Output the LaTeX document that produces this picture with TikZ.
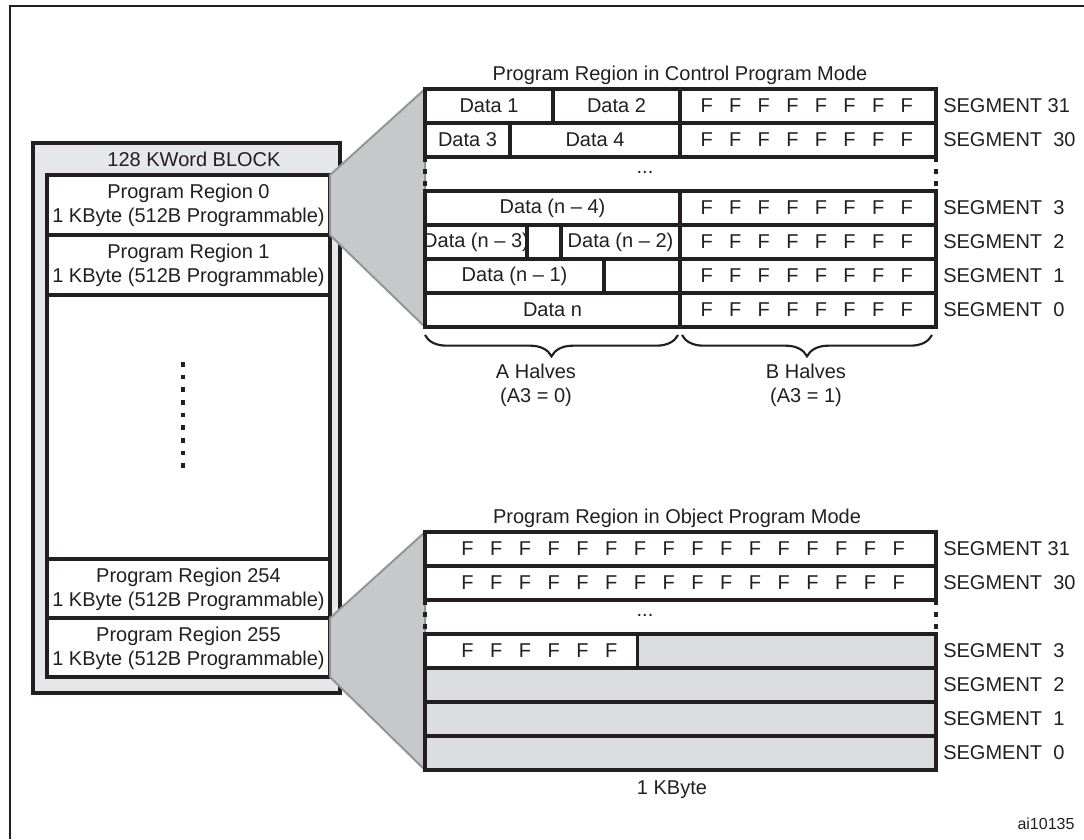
\documentclass[tikz,border=0pt]{standalone}
\usepackage{fontspec}
\setmainfont{Liberation Sans}
\usepackage{tikz}
\usetikzlibrary{decorations.pathreplacing}
\definecolor{ink}{HTML}{231F20}
\definecolor{blockfill}{HTML}{E6E7E8}
\definecolor{zoomfill}{HTML}{C7C8CA}
\definecolor{zoomline}{HTML}{939598}
\definecolor{unusedfill}{HTML}{DCDDDE}
\tikzset{
  lbl/.style={font=\fontsize{15}{18}\selectfont, text=ink, inner sep=0pt, align=center},
  seg/.style={lbl, anchor=west},
  cell/.style={draw=ink, line width=2.4pt, fill=white},
  greycell/.style={cell, fill=unusedfill},
  zoomwedge/.style={draw=zoomline, line width=1.5pt, fill=zoomfill, line join=round},
  gapedge/.style={draw=ink, line width=2.4pt, dash pattern=on 4pt off 5pt},
  halfbrace/.style={draw=ink, line width=1.6pt, decorate, decoration={brace, mirror, amplitude=16pt}},
}

\begin{document}
\begin{tikzpicture}[x=0.75pt, y=-0.75pt]
\useasboundingbox (0,0) rectangle (1084,839);
% Rahmen
\draw[ink, line width=1.5pt] (9.5,839) -- (9.5,6) -- (1084,6);

% 128 KWord Block
\draw[cell, fill=blockfill] (33,143) rectangle (340,693);
\node[lbl] (blk) at (194,159) {128 KWord BLOCK};
\draw[cell] (47,175) rectangle (330,235);
\node[lbl] (pr0) at (188.5,205) {Program Region 0\\1 KByte (512B Programmable)};
\draw[cell] (47,235) rectangle (330,295);
\node[lbl] (pr1) at (188.5,265) {Program Region 1\\1 KByte (512B Programmable)};
\draw[cell] (47,295) rectangle (330,559);
\draw[ink, line width=3pt, dash pattern=on 3.5pt off 6pt] (183,362) -- (183,474);
\draw[cell] (47,559) rectangle (330,618);
\node[lbl] (pr254) at (188.5,589) {Program Region 254\\1 KByte (512B Programmable)};
\draw[cell] (47,618) rectangle (330,677);
\node[lbl] (pr255) at (188.5,648) {Program Region 255\\1 KByte (512B Programmable)};

% Vergroesserung
\draw[zoomwedge] (330,175) -- (425,89) -- (425,327) -- (330,235) -- cycle;
\draw[zoomwedge] (330,618) -- (425,532) -- (425,770) -- (330,677) -- cycle;

% Control Program Mode
\node[lbl] (ctitle) at (680,75) {Program Region in Control Program Mode};
\draw[cell] (425,89) rectangle (553,123);
\node[lbl] (d1) at (489,106) {Data 1};
\draw[cell] (553,89) rectangle (680,123);
\node[lbl] (d2) at (616.5,106) {Data 2};
\draw[cell] (425,123) rectangle (510,157);
\node[lbl] (d3) at (467.5,140) {Data 3};
\draw[cell] (510,123) rectangle (680,157);
\node[lbl] (d4) at (595,140) {Data 4};
\draw[gapedge] (425,157) -- (425,191);
\draw[gapedge] (936,157) -- (936,191);
\node[lbl] (cdots) at (645,172) {...};
\draw[cell] (425,191) rectangle (680,225);
\node[lbl] (dn4) at (552.5,208) {Data (n -- 4)};
\draw[cell] (425,225) rectangle (527,259);
\node[lbl] (dn3) at (476,242) {Data (n -- 3)};
\draw[cell] (527,225) rectangle (561,259);
\draw[cell] (561,225) rectangle (680,259);
\node[lbl] (dn2) at (620.5,242) {Data (n -- 2)};
\draw[cell] (425,259) rectangle (604,293);
\node[lbl] (dn1) at (514.5,276) {Data (n -- 1)};
\draw[cell] (604,259) rectangle (680,293);
\draw[cell] (425,293) rectangle (680,327);
\node[lbl] (dn) at (552.5,310) {Data n};
% B-Haelften
\foreach \yt/\s in {89/31, 123/30, 191/3, 225/2, 259/1, 293/0}{
  \draw[cell] (680,\yt) rectangle (936,\yt+34);
  \foreach \k in {0,...,7}
    \node[lbl] (cf\s-\k) at (706.7+28.57*\k,\yt+17) {F};
}
\node[seg] (cs31) at (943,106) {SEGMENT 31};
\foreach \yt/\s in {123/30, 191/3, 225/2, 259/1, 293/0}
  \node[seg] (cs\s) at (943,\yt+17) {SEGMENT\ \ \s};

\draw[halfbrace] (425,335) -- (678,335);
\draw[halfbrace] (682,335) -- (932,335);
\node[lbl] (ahalf) at (536,385) {A Halves\\(A3 = 0)};
\node[lbl] (bhalf) at (806,385) {B Halves\\(A3 = 1)};

% Object Program Mode
\node[lbl] (otitle) at (677,518) {Program Region in Object Program Mode};
\foreach \yt/\s in {532/31, 566/30}{
  \draw[cell] (425,\yt) rectangle (936,\yt+34);
  \foreach \k in {0,...,15}
    \node[lbl] (of\s-\k) at (467.5+28.75*\k,\yt+17) {F};
}
\draw[gapedge] (425,600) -- (425,634);
\draw[gapedge] (936,600) -- (936,634);
\node[lbl] (odots) at (645,615) {...};
\draw[cell] (425,634) rectangle (637.5,668);
\draw[greycell] (637.5,634) rectangle (936,668);
\foreach \k in {0,...,5}
  \node[lbl] (of3-\k) at (467.5+28.75*\k,651) {F};
\foreach \yt in {668, 702, 736}
  \draw[greycell] (425,\yt) rectangle (936,\yt+34);
\node[seg] (os31) at (943,549) {SEGMENT 31};
\foreach \yt/\s in {566/30, 634/3, 668/2, 702/1, 736/0}
  \node[seg] (os\s) at (943,\yt+17) {SEGMENT\ \ \s};
\node[lbl] (okbyte) at (672,790) {1 KByte};
\node[lbl, font=\fontsize{12}{14}\selectfont] (figid) at (1046,824) {ai10135};
\end{tikzpicture}
\end{document}
